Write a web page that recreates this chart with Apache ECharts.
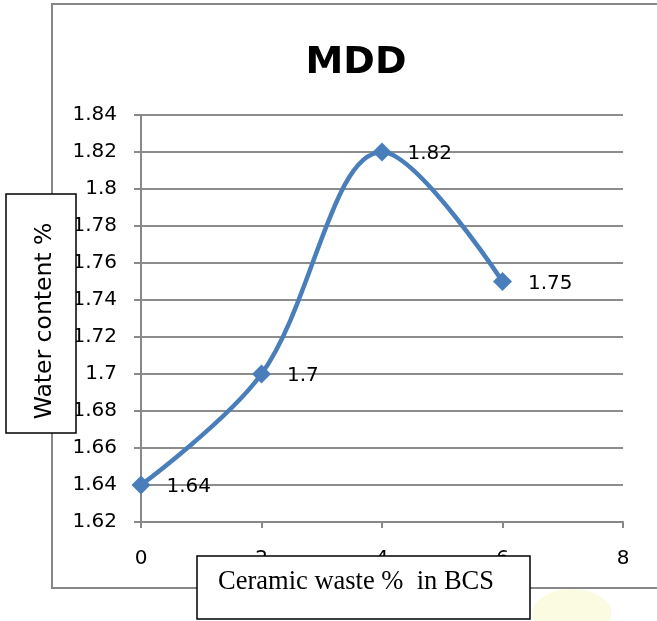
<!DOCTYPE html>
<html>
<head>
<meta charset="utf-8">
<script src="https://cdn.jsdelivr.net/npm/echarts@6/dist/echarts.min.js"></script>
<style>
html,body{margin:0;padding:0;background:#fff;}
#chart{width:657px;height:621px;}
</style>
</head>
<body>
<div id="chart"></div>
<script>
var xValues = [0, 2, 4, 6];
var mddValues = [1.64, 1.7, 1.82, 1.75];
var chartTitle = 'MDD';
var yAxisTitle = 'Water content %';
var xAxisTitle = 'Ceramic waste %  in BCS';

var points = xValues.map(function (x, i) { return [x, mddValues[i]]; });
var chart = echarts.init(document.getElementById('chart'));
var font = "'DejaVu Sans', sans-serif";
chart.setOption({
  animation: false,
  backgroundColor: '#ffffff',
  grid: { left: 141, right: 34, top: 115, bottom: 99 },
  xAxis: {
    type: 'value', min: 0, max: 8, interval: 2,
    axisLine: { show: true, lineStyle: { color: '#888', width: 2 } },
    axisTick: { show: true, length: 6, lineStyle: { color: '#888', width: 2 } },
    axisLabel: { color: '#000', fontSize: 20, margin: 27, fontFamily: font },
    splitLine: { show: false }
  },
  yAxis: {
    type: 'value', min: 1.62, max: 1.84, interval: 0.02,
    axisLine: { show: true, lineStyle: { color: '#888', width: 2 } },
    axisTick: { show: true, length: 7, lineStyle: { color: '#888', width: 2 } },
    axisLabel: { color: '#000', fontSize: 20, margin: 24, fontFamily: font,
      formatter: function (v) { return String(parseFloat(v.toFixed(2))); } },
    splitLine: { show: true, lineStyle: { color: '#8c8c8c', width: 2 } }
  },
  series: [{
    type: 'line', data: points, smooth: 0.35,
    lineStyle: { color: '#4A7EBB', width: 4.5 },
    itemStyle: { color: '#4A7EBB' },
    symbol: 'diamond', symbolSize: 19,
    label: { show: true, position: 'right', distance: 16, offset: [0, 2], color: '#000', fontSize: 20, fontFamily: font }
  }],
  graphic: [
    { type: 'circle', z: -2, shape: { cx: 0, cy: 0, r: 24 }, x: 572, y: 613, scaleX: 1.65,
      style: { fill: '#fbfbe2' } },
    { type: 'rect', z: -1, shape: { x: 52, y: 4, width: 700, height: 584 },
      style: { fill: 'none', stroke: '#888', lineWidth: 2 } },
    { type: 'text', z: 50, x: 356, y: 63,
      style: { text: chartTitle, fontSize: 38, fontWeight: 'bold', fontFamily: font, fill: '#000',
        textAlign: 'center', textVerticalAlign: 'middle' } },
    { type: 'rect', z: 100, shape: { x: 6, y: 194, width: 70, height: 239 },
      style: { fill: '#fff', stroke: '#000', lineWidth: 1.5 } },
    { type: 'text', z: 101, x: 45, y: 321, rotation: Math.PI / 2,
      style: { text: yAxisTitle, fontSize: 23.5, fontFamily: font, fill: '#000',
        textAlign: 'center', textVerticalAlign: 'middle' } },
    { type: 'rect', z: 100, shape: { x: 197, y: 556, width: 333, height: 63 },
      style: { fill: '#fff', stroke: '#000', lineWidth: 1.5 } },
    { type: 'text', z: 101, x: 218, y: 582,
      style: { text: xAxisTitle, fontSize: 26.5, fontFamily: "'Liberation Serif', serif", fill: '#000',
        textAlign: 'left', textVerticalAlign: 'middle' } }
  ]
});
</script>
</body>
</html>
